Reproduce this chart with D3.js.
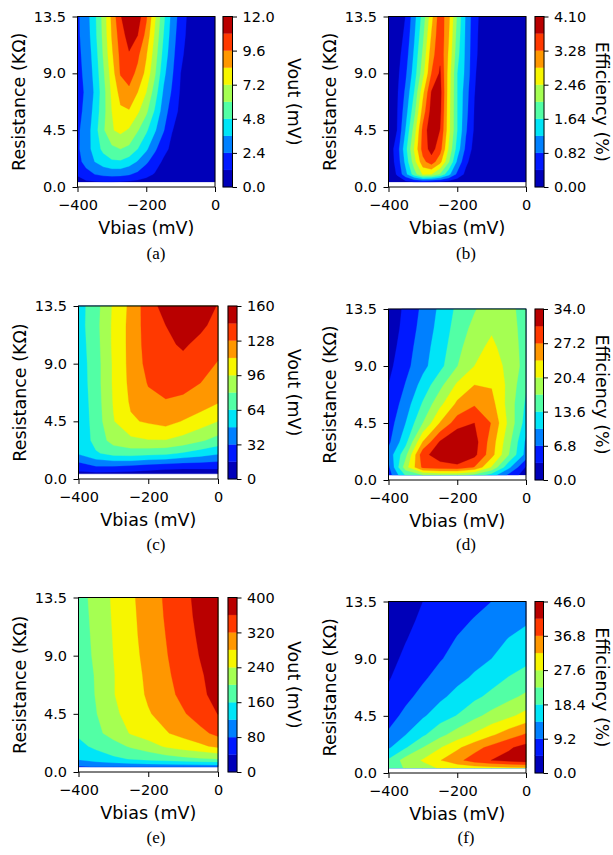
<!DOCTYPE html>
<html>
<head>
<meta charset="utf-8">
<script src="https://cdn.jsdelivr.net/npm/d3@7"></script>
<style>
  body { margin: 0; background: #fff; }
  svg { display: block; }
  text { font-family: "DejaVu Sans", sans-serif; fill: #000; }
</style>
</head>
<body>
<svg width="613" height="855"></svg>
<script>
// grid rows (resistance, KΩ) and columns (Vbias, mV)
const resistance = [0.4, 1, 2, 3, 4.5, 6, 7.5, 9, 10.5, 12, 13.5];
const vbiasFine = [-400, -375, -350, -325, -300, -275, -250, -225, -200, -175, -150, -125, -100, -75, -50, -25, 0];
const vbiasCoarse = [-400, -350, -300, -250, -200, -150, -100, -50, 0];

// (a) Vout, mV — one row per resistance value
const voutA = [
  [0.8, 1.0, 1.1, 1.15, 1.15, 1.1, 1.0, 0.9, 0.7, 0.5, 0.3, 0.2, 0.1, 0.05, 0.0, 0.0, 0.0],
  [1.3, 2.0, 2.4, 2.7, 2.8, 2.75, 2.5, 2.1, 1.6, 1.1, 0.7, 0.4, 0.2, 0.1, 0.05, 0.0, 0.0],
  [2.0, 2.8, 3.6, 4.2, 4.6, 4.65, 4.2, 3.5, 2.6, 1.8, 1.0, 0.6, 0.3, 0.15, 0.05, 0.0, 0.0],
  [2.2, 3.0, 4.1, 5.1, 5.7, 6.0, 5.7, 4.8, 3.8, 2.6, 1.6, 0.9, 0.5, 0.25, 0.1, 0.03, 0.0],
  [2.2, 2.9, 4.25, 5.8, 7.1, 7.5, 7.05, 6.1, 5.0, 3.75, 2.5, 1.25, 0.7, 0.35, 0.15, 0.05, 0.0],
  [2.1, 2.65, 4.0, 5.55, 7.2, 8.2, 8.3, 7.4, 6.25, 4.65, 3.0, 1.8, 0.9, 0.5, 0.25, 0.1, 0.03],
  [2.0, 2.55, 3.75, 5.5, 7.45, 8.8, 9.35, 8.4, 7.2, 5.4, 3.45, 2.25, 1.05, 0.6, 0.3, 0.12, 0.04],
  [2.1, 2.64, 3.95, 5.78, 7.8, 9.7, 10.1, 9.3, 8.05, 6.16, 3.94, 2.55, 1.2, 0.7, 0.35, 0.15, 0.05],
  [2.15, 2.75, 4.15, 6.1, 8.2, 9.9, 10.7, 9.85, 8.5, 6.6, 4.4, 2.8, 1.4, 0.8, 0.4, 0.18, 0.08],
  [2.2, 2.9, 4.4, 6.3, 8.5, 10.2, 11.3, 10.8, 9.2, 7.0, 4.8, 3.0, 1.65, 0.85, 0.45, 0.2, 0.1],
  [2.2, 3.0, 4.5, 6.4, 8.7, 10.7, 11.8, 11.4, 9.8, 7.4, 5.1, 3.2, 1.85, 0.9, 0.5, 0.2, 0.1]
];

// (b) efficiency, %
const effB = [
  [0.05, 0.15, 0.3, 0.38, 0.4, 0.38, 0.32, 0.25, 0.15, 0.08, 0.03, 0, 0, 0, 0, 0, 0],
  [0.1, 0.45, 1.1, 1.85, 2.5, 2.45, 2.0, 1.35, 0.72, 0.3, 0.1, 0.04, 0, 0, 0, 0, 0],
  [0.15, 0.55, 1.35, 2.3, 3.15, 3.5, 3.0, 2.1, 1.15, 0.5, 0.18, 0.07, 0.02, 0, 0, 0, 0],
  [0.15, 0.6, 1.5, 2.5, 3.45, 3.85, 3.45, 2.4, 1.45, 0.72, 0.25, 0.1, 0.04, 0, 0, 0, 0],
  [0.15, 0.41, 1.25, 2.23, 3.4, 4.0, 3.68, 2.6, 1.64, 0.87, 0.35, 0.17, 0.08, 0.03, 0, 0, 0],
  [0.13, 0.38, 1.05, 1.9, 3.05, 3.85, 3.8, 2.62, 1.64, 0.95, 0.38, 0.18, 0.08, 0.03, 0, 0, 0],
  [0.12, 0.35, 0.9, 1.65, 2.75, 3.72, 3.85, 2.65, 1.64, 1.0, 0.42, 0.2, 0.09, 0.03, 0, 0, 0],
  [0.1, 0.3, 0.75, 1.42, 2.3, 3.28, 3.75, 2.69, 1.64, 1.12, 0.45, 0.22, 0.1, 0.04, 0, 0, 0],
  [0.08, 0.25, 0.62, 1.3, 2.12, 3.1, 3.6, 2.8, 1.78, 1.13, 0.5, 0.23, 0.1, 0.04, 0.01, 0, 0],
  [0.06, 0.2, 0.5, 1.18, 1.95, 2.9, 3.6, 2.9, 1.88, 1.15, 0.52, 0.24, 0.11, 0.05, 0.02, 0, 0],
  [0.05, 0.15, 0.42, 1.08, 1.8, 2.72, 3.55, 2.98, 1.98, 1.17, 0.55, 0.25, 0.12, 0.05, 0.02, 0, 0]
];

// (c) Vout, mV
const voutC = [
  [12, 12, 11, 10, 8, 6, 5, 5, 6],
  [24, 32, 32, 30, 26, 24, 22, 22, 22],
  [50, 62, 70, 72, 70, 68, 62, 56, 50],
  [50, 70, 86, 92, 95, 95, 90, 82, 74],
  [52, 71, 95, 110, 114, 118, 111, 104, 96],
  [53, 72, 97, 114, 124, 127, 126, 120, 113],
  [54, 73, 98, 116, 129, 133, 131, 128, 120],
  [55, 73, 98, 117, 133, 138, 140, 134, 127],
  [56, 74, 99, 117, 135, 141, 146, 140, 133],
  [57, 75, 99, 117, 136, 144, 152, 147, 139],
  [57, 74, 98, 116, 137, 150, 156, 153, 143]
];

// (d) efficiency, %
const effD = [
  [5, 14, 17, 18, 18, 16, 12, 6, 1.5],
  [6, 19, 28, 29, 29.5, 27, 20, 11, 3],
  [8, 16, 29.5, 32.5, 34, 31.5, 25, 17, 9],
  [6, 12.5, 24, 31, 34, 32, 25.5, 18, 9.5],
  [5, 10.2, 17, 24, 29, 30.6, 27, 19.5, 12],
  [4, 8.5, 14, 19.5, 24.5, 26.8, 25, 19, 13],
  [3.4, 7, 11.5, 16, 21, 23.8, 23.5, 19.5, 14],
  [2.5, 5.8, 9.2, 12.6, 16.9, 20.4, 22, 19.5, 15.5],
  [1.8, 5.2, 8.7, 12, 15.8, 19.5, 21, 19, 15.5],
  [1.0, 4.7, 8, 11.4, 15, 18, 20, 18.5, 15.5],
  [0.5, 4.3, 7.5, 10.9, 14.3, 16.7, 19, 18, 15.5]
];

// (e) Vout, mV
const voutE = [
  [75, 82, 86, 88, 90, 91, 92, 93, 94],
  [125, 140, 152, 162, 172, 180, 188, 195, 200],
  [150, 168, 185, 205, 222, 245, 260, 272, 290],
  [166, 190, 215, 243, 262, 277, 292, 310, 330],
  [170, 198, 230, 257, 277, 293, 316, 338, 361],
  [174, 202, 238, 262, 285, 307, 330, 354, 370],
  [177, 203, 238, 262, 289, 313, 335, 356, 377],
  [179, 207, 240, 266, 293, 317, 340, 362, 383],
  [181, 209, 242, 269, 296, 320, 344, 366, 388],
  [183, 211, 244, 271, 298, 323, 347, 370, 393],
  [185, 213, 246, 273, 300, 325, 349, 373, 398]
];

// (f) efficiency, %
const effF = [
  [20, 23.5, 26, 28, 29, 30, 30.5, 31, 31.5],
  [19, 25, 28, 32, 35.5, 39, 41.5, 43, 44],
  [13.1, 18.0, 23, 27.3, 31.3, 35.1, 38.2, 40.8, 43],
  [9.85, 13.8, 17.7, 21.75, 25.2, 28.3, 31.6, 34.7, 37.4],
  [7.6, 10.2, 13.2, 16.2, 18.6, 21.8, 24.5, 26.7, 29.1],
  [5.7, 8.25, 10.4, 12.9, 15.2, 17.4, 19.6, 21.9, 23.9],
  [4.2, 6.9, 8.6, 10.6, 12.6, 14.4, 16.5, 18.6, 20.1],
  [3.0, 5.6, 7.6, 8.9, 10.6, 12.4, 13.8, 15.7, 17.25],
  [2.0, 4.4, 6.5, 8.0, 9.4, 10.7, 12.3, 14.0, 15.1],
  [1.0, 3.4, 5.5, 7.0, 8.4, 9.4, 10.8, 12.2, 13.3],
  [0.3, 2.4, 4.6, 6.0, 7.4, 8.3, 9.2, 10.8, 12.0]
];

// colorbar tick labels
const ticksA = [0, 2.4, 4.8, 7.2, 9.6, 12.0];
const ticksB = [0, 0.82, 1.64, 2.46, 3.28, 4.10];
const ticksC = [0, 32, 64, 96, 128, 160];
const ticksD = [0, 6.8, 13.6, 20.4, 27.2, 34.0];
const ticksE = [0, 80, 160, 240, 320, 400];
const ticksF = [0, 9.2, 18.4, 27.6, 36.8, 46.0];

const xTicks = [-400, -200, 0];
const yTicks = [0, 4.5, 9, 13.5];

// matplotlib "jet"
const jetR = d3.scaleLinear().domain([0, 0.35, 0.66, 0.89, 1]).range([0, 0, 1, 1, 0.5]).clamp(true);
const jetG = d3.scaleLinear().domain([0, 0.125, 0.375, 0.64, 0.91, 1]).range([0, 0, 1, 1, 0, 0]).clamp(true);
const jetB = d3.scaleLinear().domain([0, 0.11, 0.34, 0.65, 1]).range([0.5, 1, 1, 0, 0]).clamp(true);
const jet = t => d3.rgb(255 * jetR(t), 255 * jetG(t), 255 * jetB(t)).formatHex();

const panels = [
  { grid: voutA, xs: vbiasFine, ticks: ticksA, fmt: ".1f", label: "Vout (mV)", caption: "(a)",
    box: [77.5, 215, 16.5, 187], cbar: [223, 232.5], cbLabelX: 287.5, capX: 156, capY: 258.5 },
  { grid: effB, xs: vbiasFine, ticks: ticksB, fmt: ".2f", label: "Efficiency (%)", caption: "(b)",
    box: [388.5, 526, 16.5, 187], cbar: [535, 544], cbLabelX: 596, capX: 466, capY: 258.5 },
  { grid: voutC, xs: vbiasCoarse, ticks: ticksC, fmt: "d", label: "Vout (mV)", caption: "(c)",
    box: [78.5, 218, 306, 479], cbar: [228, 237], cbLabelX: 287.5, capX: 156, capY: 549.5 },
  { grid: effD, xs: vbiasCoarse, ticks: ticksD, fmt: ".1f", label: "Efficiency (%)", caption: "(d)",
    box: [388.5, 526, 309, 480], cbar: [535, 543.5], cbLabelX: 596, capX: 466, capY: 549.5 },
  { grid: voutE, xs: vbiasCoarse, ticks: ticksE, fmt: "d", label: "Vout (mV)", caption: "(e)",
    box: [78.5, 218, 597.5, 772], cbar: [228, 237], cbLabelX: 287.5, capX: 156, capY: 843 },
  { grid: effF, xs: vbiasCoarse, ticks: ticksF, fmt: ".1f", label: "Efficiency (%)", caption: "(f)",
    box: [388.5, 526, 601.5, 773], cbar: [535, 543.5], cbLabelX: 596, capX: 466, capY: 843 }
];

const svg = d3.select("svg");

function styleAxis(g) {
  g.select(".domain").remove();
  g.selectAll(".tick line").attr("stroke", "#000").attr("stroke-width", 1);
  g.selectAll(".tick text").attr("font-family", "DejaVu Sans").attr("font-size", 14.5).attr("fill", "#000");
}

panels.forEach(p => {
  const [left, right, top, bottom] = p.box;
  const vmax = p.ticks[p.ticks.length - 1];
  const levels = d3.range(11).map(i => vmax * i / 10);
  const nx = p.xs.length, ny = resistance.length;

  const x = d3.scaleLinear().domain([-400, 0]).range([left, right]);
  const y = d3.scaleLinear().domain([0, 13.5]).range([bottom, top]);
  // grid index -> data value (non-uniform rows)
  const ix = d3.scaleLinear().domain(d3.range(nx)).range(p.xs).clamp(true);
  const iy = d3.scaleLinear().domain(d3.range(ny)).range(resistance).clamp(true);

  const g = svg.append("g");

  const bands = d3.contours().size([nx, ny]).thresholds(levels.slice(0, 10))(p.grid.flat());
  const proj = d3.geoTransform({
    point(px, py) { this.stream.point(x(ix(px - 0.5)), y(iy(py - 0.5))); }
  });
  const path = d3.geoPath(proj);
  g.selectAll("path.band")
    .data(bands)
    .join("path")
    .attr("class", "band")
    .attr("d", path)
    .attr("fill", (d, i) => jet((i + 0.5) / 10))
    .attr("stroke", (d, i) => jet((i + 0.5) / 10))
    .attr("stroke-width", 0.3);

  // axes
  g.append("g")
    .attr("transform", `translate(0,${bottom})`)
    .call(d3.axisBottom(x).tickValues(xTicks).tickSize(5).tickPadding(8).tickSizeOuter(0))
    .call(styleAxis);
  g.append("g")
    .attr("transform", `translate(${left},0)`)
    .call(d3.axisLeft(y).tickValues(yTicks).tickFormat(d3.format(".1f")).tickSize(5).tickPadding(6.5).tickSizeOuter(0))
    .call(styleAxis);

  g.append("rect")
    .attr("x", left).attr("y", top)
    .attr("width", right - left).attr("height", bottom - top)
    .attr("fill", "none").attr("stroke", "#000").attr("stroke-width", 1);

  g.append("text")
    .attr("x", (left + right) / 2).attr("y", bottom + 47)
    .attr("text-anchor", "middle").attr("font-size", 17.5)
    .text("Vbias (mV)");
  g.append("text")
    .attr("transform", `translate(${left - 53},${(top + bottom) / 2}) rotate(-90)`)
    .attr("text-anchor", "middle").attr("font-size", 17.5)
    .text("Resistance (KΩ)");

  // colorbar
  const [c0, c1] = p.cbar;
  const cy = d3.scaleLinear().domain([0, vmax]).range([bottom, top]);
  g.selectAll("rect.cb")
    .data(d3.pairs(levels))
    .join("rect")
    .attr("class", "cb")
    .attr("x", c0).attr("width", c1 - c0)
    .attr("y", d => cy(d[1])).attr("height", d => cy(d[0]) - cy(d[1]))
    .attr("fill", (d, i) => jet((i + 0.5) / 10))
    .attr("stroke", (d, i) => jet((i + 0.5) / 10))
    .attr("stroke-width", 0.3);
  g.append("rect")
    .attr("x", c0).attr("y", top)
    .attr("width", c1 - c0).attr("height", bottom - top)
    .attr("fill", "none").attr("stroke", "#000").attr("stroke-width", 1);
  g.append("g")
    .attr("transform", `translate(${c1},0)`)
    .call(d3.axisRight(cy).tickValues(p.ticks).tickFormat(d3.format(p.fmt)).tickSize(4.5).tickPadding(5.5).tickSizeOuter(0))
    .call(styleAxis);
  g.append("text")
    .attr("transform", `translate(${p.cbLabelX},${(top + bottom) / 2}) rotate(90)`)
    .attr("text-anchor", "middle").attr("font-size", 17.5)
    .text(p.label);

  g.append("text")
    .attr("x", p.capX).attr("y", p.capY)
    .attr("text-anchor", "middle")
    .attr("font-size", 17)
    .style("font-family", "'Liberation Serif', serif")
    .text(p.caption);
});
</script>
</body>
</html>
